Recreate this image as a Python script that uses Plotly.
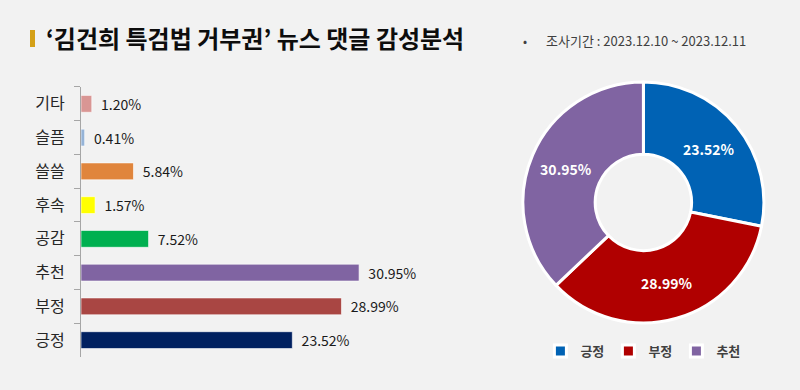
import plotly.graph_objects as go

# Bar data (top to bottom)
bar_categories = ["기타", "슬픔", "쓸쓸", "후속", "공감", "추천", "부정", "긍정"]
bar_values = [1.20, 0.41, 5.84, 1.57, 7.52, 30.95, 28.99, 23.52]
bar_labels = ["1.20%", "0.41%", "5.84%", "1.57%", "7.52%", "30.95%", "28.99%", "23.52%"]
bar_colors = ["#D99694", "#95B3D7", "#E0853C", "#FFFF00", "#00B050", "#8064A2", "#A94643", "#002060"]

# Donut data
pie_labels = ["긍정", "부정", "추천"]
pie_values = [23.52, 28.99, 30.95]
pie_text = ["23.52%", "28.99%", "30.95%"]
pie_colors = ["#0062B4", "#B00000", "#8064A2"]

FONT = "Noto Sans CJK KR"

fig = go.Figure()

fig.add_trace(go.Bar(
    x=bar_values[::-1],
    y=bar_categories[::-1],
    orientation="h",
    marker=dict(color=bar_colors[::-1], line=dict(color="rgba(255,255,255,0.6)", width=1)),
    text=bar_labels[::-1],
    texttemplate="  %{text}",
    textposition="outside",
    constraintext="none",
    textfont=dict(size=14, color="#1A1A1A", family=FONT),
    cliponaxis=False,
    width=0.5,
    showlegend=False,
    hoverinfo="x+y",
))

fig.add_trace(go.Pie(
    labels=pie_labels,
    values=pie_values,
    text=pie_text,
    textinfo="text",
    textposition="inside",
    insidetextorientation="horizontal",
    textfont=dict(size=14, color="white", family=FONT, weight="bold"),
    marker=dict(colors=pie_colors, line=dict(color="white", width=3)),
    hole=0.4,
    sort=False,
    direction="clockwise",
    rotation=0,
    domain=dict(x=[0.6525, 0.956], y=[0.172, 0.79]),
    showlegend=True,
))

fig.update_layout(
    width=800, height=390,
    margin=dict(l=0, r=0, t=0, b=0),
    paper_bgcolor="#F2F2F2",
    plot_bgcolor="#F2F2F2",
    font=dict(family=FONT, color="#262626"),
    xaxis=dict(domain=[0.10125, 0.555], range=[0, 40.4], visible=False, fixedrange=True),
    yaxis=dict(
        domain=[0.0846, 0.777],
        showline=True, linecolor="#A6A6A6", linewidth=1,
        ticks="outside", ticklen=6, tickcolor="#A6A6A6", tickson="boundaries",
        tickfont=dict(size=16, color="#262626", family=FONT),
        ticklabelstandoff=12,
        showgrid=False, zeroline=False,
    ),
    legend=dict(
        orientation="h", x=0.803, y=0.1, xanchor="center", yanchor="middle",
        font=dict(size=13, color="#404040", family=FONT, weight="bold"),
        bgcolor="rgba(0,0,0,0)", itemwidth=30, entrywidth=23, entrywidthmode="pixels",
    ),
    shapes=[dict(type="rect", xref="paper", yref="paper",
                 x0=30 / 800, x1=35 / 800, y0=1 - 47 / 390, y1=1 - 30 / 390,
                 fillcolor="#D4A017", line=dict(width=0))],
    annotations=[
        dict(text="<b>‘김건희 특검법 거부권’ 뉴스 댓글 감성분석</b>", xref="paper", yref="paper",
             x=44 / 800, y=1 - 38 / 390, xanchor="left", yanchor="middle", showarrow=False,
             font=dict(size=24, color="#0D0D0D", family=FONT)),
        dict(text="•", xref="paper", yref="paper",
             x=521 / 800, y=1 - 41 / 390, xanchor="left", yanchor="middle", showarrow=False,
             font=dict(size=12, color="#404040", family=FONT)),
        dict(text="조사기간 : 2023.12.10 ~ 2023.12.11", xref="paper", yref="paper",
             x=544 / 800, y=1 - 41 / 390, xanchor="left", yanchor="middle", showarrow=False,
             font=dict(size=13, color="#404040", family=FONT)),
    ],
)

fig.write_html("out.html", config={"displayModeBar": False},
               post_script="document.body.style.margin='0';document.body.style.padding='0';")
